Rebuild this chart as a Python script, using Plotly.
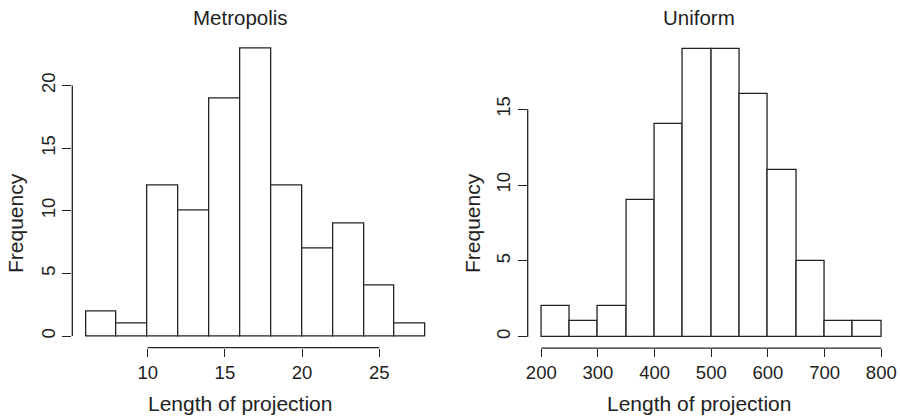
import plotly.graph_objects as go

# ---- data ----
metro_edges = [6, 8, 10, 12, 14, 16, 18, 20, 22, 24, 26, 28]
metro_counts = [2, 1, 12, 10, 19, 23, 12, 7, 9, 4, 1]
metro_xticks = [10, 15, 20, 25]
metro_yticks = [0, 5, 10, 15, 20]

unif_edges = [200, 250, 300, 350, 400, 450, 500, 550, 600, 650, 700, 750, 800]
unif_counts = [2, 1, 2, 9, 14, 19, 19, 16, 11, 5, 1, 1]
unif_xticks = [200, 300, 400, 500, 600, 700, 800]
unif_yticks = [0, 5, 10, 15]

titles = ["Metropolis", "Uniform"]
xlabel = "Length of projection"
ylabel = "Frequency"

W, H = 900, 417
INK = "#222222"
FONT = "Liberation Sans, Arial, Helvetica, sans-serif"


def mids_widths(edges):
    m = [(a + b) / 2 for a, b in zip(edges[:-1], edges[1:])]
    w = [b - a for a, b in zip(edges[:-1], edges[1:])]
    return m, w


def rrange(lo, hi):
    pad = 0.04 * (hi - lo)
    return [lo - pad, hi + pad]


fig = go.Figure()

panels = [
    dict(edges=metro_edges, counts=metro_counts, xt=metro_xticks, yt=metro_yticks,
         xd=[72.3, 439.2], yd=[347.6, 36.5], xa="x", ya="y", title_x=240, ylab_x=15),
    dict(edges=unif_edges, counts=unif_counts, xt=unif_xticks, yt=unif_yticks,
         xd=[527.7, 894.9], yd=[348.2, 37.1], xa="x2", ya="y2", title_x=699, ylab_x=472),
]

for i, p in enumerate(panels):
    m, w = mids_widths(p["edges"])
    fig.add_trace(go.Bar(
        x=m, y=p["counts"], width=w, xaxis=p["xa"], yaxis=p["ya"],
        marker=dict(color="white", line=dict(color=INK, width=1.3)),
        showlegend=False, hoverinfo="x+y",
    ))
    suffix = "" if i == 0 else "2"
    xdom = [p["xd"][0] / W, p["xd"][1] / W]
    ydom = [1 - p["yd"][0] / H, 1 - p["yd"][1] / H]
    fig.layout["xaxis" + suffix] = dict(
        domain=xdom, range=rrange(p["edges"][0], p["edges"][-1]),
        tickvals=p["xt"], ticks="outside", ticklen=8, tickwidth=1.3, tickcolor=INK,
        showgrid=False, zeroline=False, showline=False, automargin=False,
        tickfont=dict(size=18.5, color=INK, family=FONT),
        anchor="y" + suffix, fixedrange=True,
    )
    fig.layout["yaxis" + suffix] = dict(
        domain=ydom, range=rrange(0, max(p["counts"])),
        tickvals=p["yt"], ticks="outside", ticklen=9, tickwidth=1.3, tickcolor=INK,
        showgrid=False, zeroline=False, showline=False, tickangle=-90,
        automargin=False,
        tickfont=dict(size=18.5, color=INK, family=FONT),
        anchor="x" + suffix, fixedrange=True,
    )
    # R-style axis lines spanning first to last tick
    fig.add_shape(type="line", xref=p["xa"], yref=p["ya"] + " domain",
                  x0=min(p["xt"]), x1=max(p["xt"]), y0=0, y1=0,
                  line=dict(color=INK, width=1.3))
    fig.add_shape(type="line", xref=p["xa"] + " domain", yref=p["ya"],
                  x0=0, x1=0, y0=min(p["yt"]), y1=max(p["yt"]),
                  line=dict(color=INK, width=1.3))
    # titles and axis labels
    fig.add_annotation(text=titles[i], x=p["title_x"] / W, y=1 - 18 / H,
                       xref="paper", yref="paper", showarrow=False,
                       xanchor="center", yanchor="middle",
                       font=dict(size=20.5, color=INK, family=FONT))
    fig.add_annotation(text=xlabel, x=p["title_x"] / W, y=1 - 403 / H,
                       xref="paper", yref="paper", showarrow=False,
                       xanchor="center", yanchor="middle",
                       font=dict(size=21, color=INK, family=FONT))
    fig.add_annotation(text=ylabel, x=p["ylab_x"] / W, y=1 - 223 / H,
                       xref="paper", yref="paper", showarrow=False, textangle=-90,
                       xanchor="center", yanchor="middle",
                       font=dict(size=21, color=INK, family=FONT))

fig.update_layout(
    width=W, height=H, margin=dict(l=0, r=0, t=0, b=0, autoexpand=False),
    paper_bgcolor="white", plot_bgcolor="white",
    bargap=0, font=dict(family=FONT, color=INK),
)

fig.write_html(
    "out.html",
    config={"displayModeBar": False, "responsive": False},
    post_script="document.body.style.margin='0';document.body.style.overflow='hidden';",
)
